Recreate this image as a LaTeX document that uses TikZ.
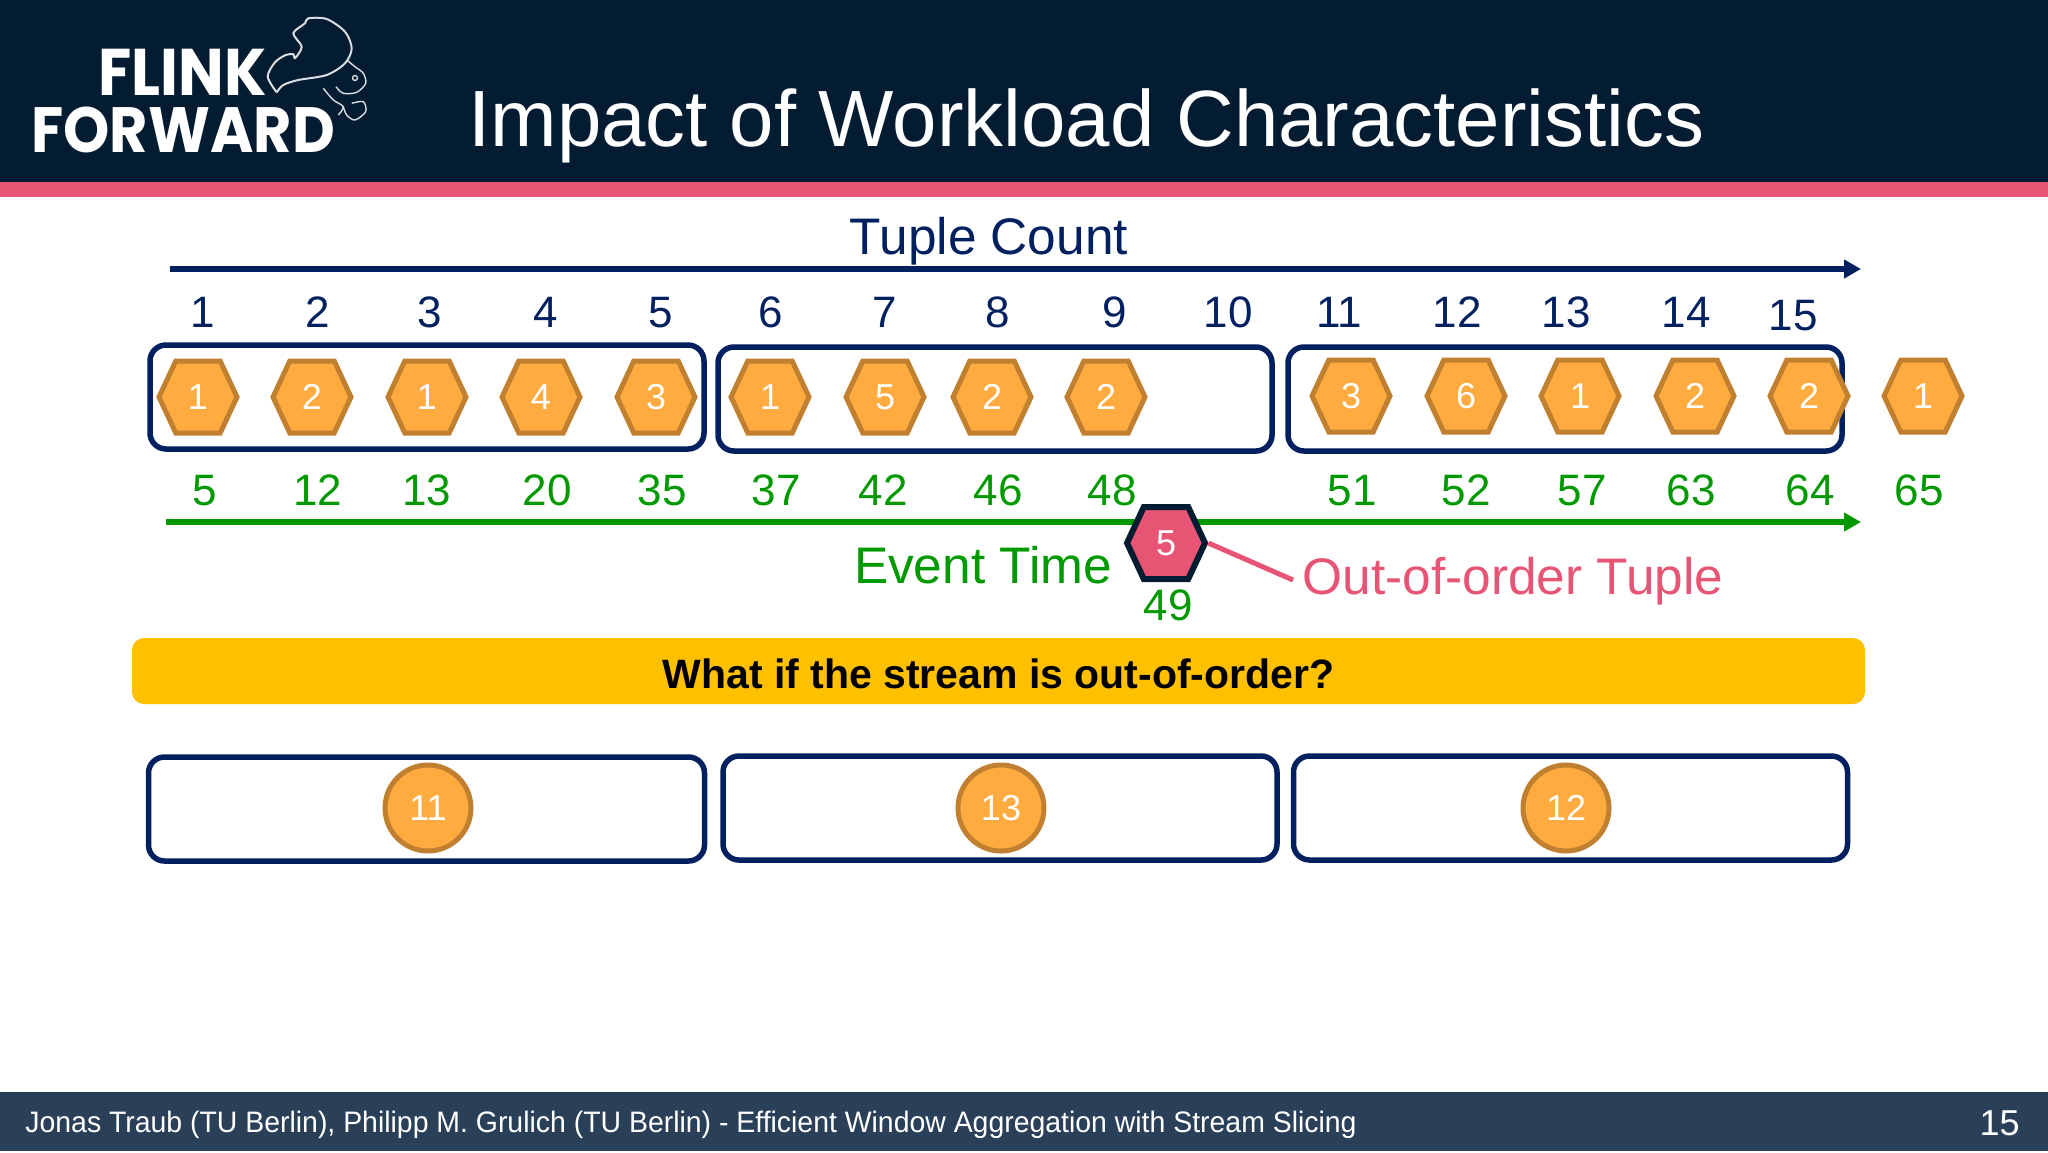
\documentclass[tikz,border=0pt]{standalone}
\usepackage{fontspec}
\setmainfont{Liberation Sans}
\newfontfamily\logofont[FakeStretch=.92]{Poppins}
\newfontfamily\footfont[FakeStretch=.96]{Liberation Sans}
\usetikzlibrary{arrows.meta,shapes.symbols}
\definecolor{headblue}{HTML}{041C32}
\definecolor{footblue}{HTML}{2A3F58}
\definecolor{pinkred}{HTML}{E85474}
\definecolor{navyline}{HTML}{002060}
\definecolor{flowgreen}{HTML}{009900}
\definecolor{hexfill}{HTML}{FFAB40}
\definecolor{hexline}{HTML}{C08030}
\definecolor{barfill}{HTML}{FFC000}
\tikzset{
  count/.style = {anchor=base, text=navyline, font=\fontsize{22pt}{26pt}\selectfont, inner sep=0pt},
  etime/.style = {count, text=flowgreen},
  head/.style  = {anchor=base, inner sep=0pt, font=\fontsize{25.7pt}{30pt}\selectfont},
  tuple/.style = {signal, signal to=east and west, signal pointer angle=130,
                  minimum width=39pt, minimum height=36pt, inner sep=0pt,
                  draw=hexline, line width=2.5pt, fill=hexfill, text=white,
                  font=\fontsize{18pt}{22pt}\selectfont},
  late/.style  = {tuple, draw=headblue, line width=3pt, fill=pinkred},
  win/.style   = {rectangle, draw=navyline, line width=2.75pt, rounded corners=8pt,
                  minimum width=277pt, minimum height=52pt, inner sep=0pt},
  agg/.style   = {circle, draw=hexline, line width=2.5pt, fill=hexfill, text=white,
                  minimum size=43pt, inner sep=0pt, font=\fontsize{18pt}{22pt}\selectfont},
  arr/.style   = {-{Triangle[length=8.5pt,width=9pt]}, line width=3pt},
  logotext/.style = {anchor=base west, inner sep=0pt, text=white},
  squirrel/.style = {draw=white!85!headblue, line width=.7pt, line join=round}
}
\begin{document}
\begin{tikzpicture}[x=.5pt,y=-.5pt]
  \useasboundingbox (0,0) rectangle (2048,1152);
  \fill[headblue] (0,0) rectangle (2048,182);
  \fill[pinkred] (0,182) rectangle (2048,197);
  \fill[footblue] (0,1092) rectangle (2048,1151);

  \node[logotext,font=\logofont\bfseries\fontsize{33pt}{36pt}\selectfont] (logoa) at (98,95) {FLINK};
  \node[logotext,font=\logofont\bfseries\fontsize{32pt}{36pt}\selectfont] (logob) at (31,152) {FORWARD};
  \draw[squirrel,line width=1pt] plot[smooth] coordinates {(276.7,92.3) (267.7,76.7) (275,62.3) (285.7,55) (293.3,54.3) (295,58.3) (301.7,46.7) (293.3,33.3) (305,23.3) (308.3,18.3) (326.7,19) (345,31.7) (351.7,48.3) (345,63.3) (326.7,75) (298.3,80) (283.3,85) (276.7,92.3)};
  \draw[squirrel] plot[smooth] coordinates {(346.7,60) (355,66.7) (363.3,73.3) (365.7,83.3) (356.7,92.3) (343.3,93.3) (336,86.7)};
  \draw[squirrel] plot[smooth] coordinates {(323.3,88.3) (333.3,100) (343.3,106.7) (338.3,115)};
  \draw[squirrel] plot[smooth] coordinates {(351.7,103.3) (363.3,101.7) (365.7,111.7) (355,120) (346.7,115) (343.3,106.7)};
  \draw[squirrel] (355,78) circle (2.5);

  \node[anchor=base west,inner sep=0pt,text=white,font=\fontsize{39.9pt}{46pt}\selectfont] (title) at (468,146) {Impact of Workload Characteristics};

  \node[head,text=navyline] (tuplecount) at (989,254) {Tuple Count};
  \coordinate (ca) at (170,269);
  \coordinate (cb) at (1861,269);
  \draw[arr,navyline] (ca)--(cb);

  \node[count] (c1) at (203,327) {1};
  \node[count] (c2) at (318,327) {2};
  \node[count] (c3) at (430,327) {3};
  \node[count] (c4) at (546,327) {4};
  \node[count] (c5) at (661,327) {5};
  \node[count] (c6) at (771,327) {6};
  \node[count] (c7) at (885,327) {7};
  \node[count] (c8) at (998,327) {8};
  \node[count] (c9) at (1115,327) {9};
  \node[count] (c10) at (1228,327) {10};
  \node[count] (c11) at (1339,327) {11};
  \node[count] (c12) at (1457,327) {12};
  \node[count] (c13) at (1566,327) {13};
  \node[count] (c14) at (1686,327) {14};
  \node[count] (c15) at (1793,330) {15};

  \node[win] (wa) at (427,397) {};
  \node[win] (wb) at (995,399) {};
  \node[win] (wc) at (1565,399) {};

  \node[tuple] (t1) at (198,397) {1};
  \node[tuple] (t2) at (312,397) {2};
  \node[tuple] (t3) at (427,397) {1};
  \node[tuple] (t4) at (541,397) {4};
  \node[tuple] (t5) at (656,397) {3};
  \node[tuple] (t6) at (770,397) {1};
  \node[tuple] (t7) at (885,397) {5};
  \node[tuple] (t8) at (992,397) {2};
  \node[tuple] (t9) at (1106,397) {2};
  \node[tuple] (t10) at (1351,396) {3};
  \node[tuple] (t11) at (1466,396) {6};
  \node[tuple] (t12) at (1580,396) {1};
  \node[tuple] (t13) at (1695,396) {2};
  \node[tuple] (t14) at (1809,396) {2};
  \node[tuple] (t15) at (1923,396) {1};

  \node[etime] (e1) at (205,505) {5};
  \node[etime] (e2) at (318,505) {12};
  \node[etime] (e3) at (427,505) {13};
  \node[etime] (e4) at (547,505) {20};
  \node[etime] (e5) at (662,505) {35};
  \node[etime] (e6) at (776,505) {37};
  \node[etime] (e7) at (883,505) {42};
  \node[etime] (e8) at (998,505) {46};
  \node[etime] (e9) at (1112,505) {48};
  \node[etime] (e10) at (1352,505) {51};
  \node[etime] (e11) at (1466,505) {52};
  \node[etime] (e12) at (1582,505) {57};
  \node[etime] (e13) at (1691,505) {63};
  \node[etime] (e14) at (1810,505) {64};
  \node[etime] (e15) at (1919,505) {65};

  \coordinate (ga) at (166,522);
  \coordinate (gb) at (1861,522);
  \draw[arr,flowgreen] (ga)--(gb);

  \node[head,text=flowgreen] (eventtime) at (983,583) {Event Time};
  \node[late] (ooo) at (1166,543) {5};
  \node[etime] (e16) at (1168,620) {49};
  \node[head,text=pinkred] (ooolabel) at (1513,594) {Out-of-order Tuple};
  \coordinate (oooend) at (1293,580);
  \draw[pinkred,line width=2.5pt] (ooo.east)--(oooend);

  \node[rectangle,fill=barfill,rounded corners=6pt,minimum width=866.5pt,minimum height=33pt,inner sep=0pt,text height=17pt,text depth=0pt,font=\bfseries\fontsize{20.5pt}{24pt}\selectfont] (question) at (998.5,671) {What if the stream is out-of-order?};

  \node[win,minimum width=278pt] (ra) at (426.5,809) {};
  \node[win,minimum width=277pt] (rb) at (1000,808) {};
  \node[win,minimum width=277pt] (rc) at (1570.5,808) {};
  \node[agg] (ca1) at (428,808) {11};
  \node[agg] (ca2) at (1001,808) {13};
  \node[agg] (ca3) at (1566,808) {12};

  \node[anchor=base west,inner sep=0pt,text=white,font=\footfont\fontsize{14.8pt}{18pt}\selectfont] (footer) at (25,1132) {Jonas Traub (TU Berlin), Philipp M. Grulich (TU Berlin) - Efficient Window Aggregation with Stream Slicing};
  \node[anchor=base east,inner sep=0pt,text=white,font=\fontsize{18pt}{22pt}\selectfont] (pagenum) at (2020,1135) {15};
\end{tikzpicture}
\end{document}
